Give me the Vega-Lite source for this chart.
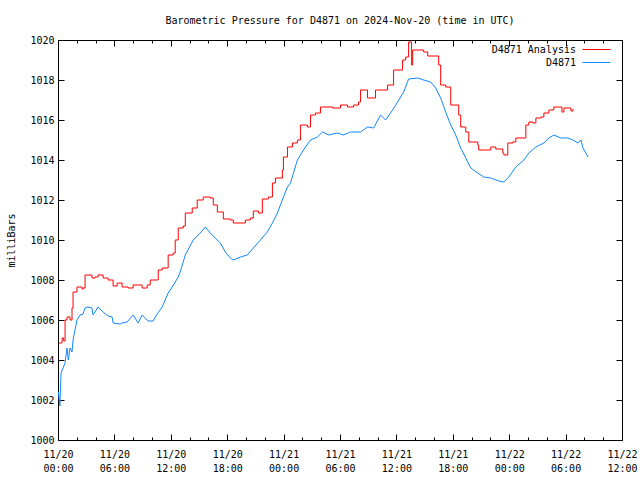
{
  "$schema": "https://vega.github.io/schema/vega-lite/v6.json",
  "autosize": {"type": "none"},
  "padding": {"left": 58, "top": 40, "right": 18, "bottom": 40},
  "width": 564,
  "height": 400,
  "background": "white",
  "title": {"text": "Barometric Pressure for D4871 on 2024-Nov-20 (time in UTC)", "font": "DejaVu Sans Mono", "fontSize": 10, "fontWeight": "normal", "color": "black", "offset": 9},
  "config": {
    "view": {"stroke": "black", "strokeWidth": 1},
    "font": "DejaVu Sans Mono",
    "axis": {"labelFont": "DejaVu Sans Mono", "labelFontSize": 10, "labelColor": "black", "titleFont": "DejaVu Sans Mono", "titleFontSize": 10, "titleFontWeight": "normal", "titleColor": "black", "tickColor": "black", "grid": false, "domain": false, "labelFlush": false},
    "legend": {"labelFont": "DejaVu Sans Mono", "labelFontSize": 10, "labelColor": "black"}
  },
  "data": {"values": [
    {"h": 0.11, "p": 1004.85, "s": "D4871 Analysis"},
    {"h": 0.43, "p": 1005.1, "s": "D4871 Analysis"},
    {"h": 0.6, "p": 1004.95, "s": "D4871 Analysis"},
    {"h": 0.75, "p": 1006.0, "s": "D4871 Analysis"},
    {"h": 0.96, "p": 1006.15, "s": "D4871 Analysis"},
    {"h": 1.28, "p": 1006.0, "s": "D4871 Analysis"},
    {"h": 1.49, "p": 1006.6, "s": "D4871 Analysis"},
    {"h": 1.6, "p": 1007.4, "s": "D4871 Analysis"},
    {"h": 2.02, "p": 1007.65, "s": "D4871 Analysis"},
    {"h": 2.56, "p": 1007.55, "s": "D4871 Analysis"},
    {"h": 2.66, "p": 1007.6, "s": "D4871 Analysis"},
    {"h": 2.88, "p": 1008.25, "s": "D4871 Analysis"},
    {"h": 3.62, "p": 1008.1, "s": "D4871 Analysis"},
    {"h": 3.94, "p": 1008.15, "s": "D4871 Analysis"},
    {"h": 4.26, "p": 1008.25, "s": "D4871 Analysis"},
    {"h": 4.8, "p": 1008.1, "s": "D4871 Analysis"},
    {"h": 5.33, "p": 1008.0, "s": "D4871 Analysis"},
    {"h": 5.86, "p": 1007.7, "s": "D4871 Analysis"},
    {"h": 6.29, "p": 1007.85, "s": "D4871 Analysis"},
    {"h": 6.82, "p": 1007.65, "s": "D4871 Analysis"},
    {"h": 7.46, "p": 1007.6, "s": "D4871 Analysis"},
    {"h": 7.99, "p": 1007.75, "s": "D4871 Analysis"},
    {"h": 8.95, "p": 1007.6, "s": "D4871 Analysis"},
    {"h": 9.49, "p": 1007.75, "s": "D4871 Analysis"},
    {"h": 9.81, "p": 1008.0, "s": "D4871 Analysis"},
    {"h": 10.66, "p": 1008.5, "s": "D4871 Analysis"},
    {"h": 11.08, "p": 1008.6, "s": "D4871 Analysis"},
    {"h": 11.72, "p": 1009.25, "s": "D4871 Analysis"},
    {"h": 12.26, "p": 1009.35, "s": "D4871 Analysis"},
    {"h": 12.47, "p": 1010.0, "s": "D4871 Analysis"},
    {"h": 12.79, "p": 1010.6, "s": "D4871 Analysis"},
    {"h": 13.32, "p": 1010.7, "s": "D4871 Analysis"},
    {"h": 13.54, "p": 1011.35, "s": "D4871 Analysis"},
    {"h": 14.28, "p": 1011.6, "s": "D4871 Analysis"},
    {"h": 14.81, "p": 1012.0, "s": "D4871 Analysis"},
    {"h": 15.45, "p": 1012.15, "s": "D4871 Analysis"},
    {"h": 16.2, "p": 1012.1, "s": "D4871 Analysis"},
    {"h": 16.52, "p": 1011.75, "s": "D4871 Analysis"},
    {"h": 16.95, "p": 1011.4, "s": "D4871 Analysis"},
    {"h": 17.59, "p": 1011.05, "s": "D4871 Analysis"},
    {"h": 18.33, "p": 1011.0, "s": "D4871 Analysis"},
    {"h": 18.65, "p": 1010.85, "s": "D4871 Analysis"},
    {"h": 19.93, "p": 1011.0, "s": "D4871 Analysis"},
    {"h": 20.46, "p": 1011.1, "s": "D4871 Analysis"},
    {"h": 20.78, "p": 1011.45, "s": "D4871 Analysis"},
    {"h": 21.32, "p": 1011.35, "s": "D4871 Analysis"},
    {"h": 21.74, "p": 1012.05, "s": "D4871 Analysis"},
    {"h": 22.38, "p": 1012.15, "s": "D4871 Analysis"},
    {"h": 22.81, "p": 1012.85, "s": "D4871 Analysis"},
    {"h": 23.13, "p": 1013.1, "s": "D4871 Analysis"},
    {"h": 23.87, "p": 1013.5, "s": "D4871 Analysis"},
    {"h": 23.98, "p": 1014.15, "s": "D4871 Analysis"},
    {"h": 24.41, "p": 1014.65, "s": "D4871 Analysis"},
    {"h": 24.94, "p": 1014.85, "s": "D4871 Analysis"},
    {"h": 25.47, "p": 1015.0, "s": "D4871 Analysis"},
    {"h": 25.79, "p": 1015.75, "s": "D4871 Analysis"},
    {"h": 26.54, "p": 1015.65, "s": "D4871 Analysis"},
    {"h": 26.86, "p": 1016.25, "s": "D4871 Analysis"},
    {"h": 27.39, "p": 1016.35, "s": "D4871 Analysis"},
    {"h": 27.92, "p": 1016.65, "s": "D4871 Analysis"},
    {"h": 29.2, "p": 1016.6, "s": "D4871 Analysis"},
    {"h": 30.05, "p": 1016.75, "s": "D4871 Analysis"},
    {"h": 30.8, "p": 1016.65, "s": "D4871 Analysis"},
    {"h": 31.44, "p": 1016.75, "s": "D4871 Analysis"},
    {"h": 31.97, "p": 1016.9, "s": "D4871 Analysis"},
    {"h": 32.19, "p": 1017.5, "s": "D4871 Analysis"},
    {"h": 32.93, "p": 1017.1, "s": "D4871 Analysis"},
    {"h": 33.78, "p": 1017.5, "s": "D4871 Analysis"},
    {"h": 35.06, "p": 1017.75, "s": "D4871 Analysis"},
    {"h": 35.7, "p": 1018.5, "s": "D4871 Analysis"},
    {"h": 36.66, "p": 1019.0, "s": "D4871 Analysis"},
    {"h": 36.98, "p": 1019.15, "s": "D4871 Analysis"},
    {"h": 37.3, "p": 1019.9, "s": "D4871 Analysis"},
    {"h": 37.62, "p": 1018.75, "s": "D4871 Analysis"},
    {"h": 37.73, "p": 1019.5, "s": "D4871 Analysis"},
    {"h": 38.9, "p": 1019.4, "s": "D4871 Analysis"},
    {"h": 39.33, "p": 1019.2, "s": "D4871 Analysis"},
    {"h": 40.5, "p": 1018.75, "s": "D4871 Analysis"},
    {"h": 40.71, "p": 1017.75, "s": "D4871 Analysis"},
    {"h": 41.24, "p": 1017.65, "s": "D4871 Analysis"},
    {"h": 41.78, "p": 1016.75, "s": "D4871 Analysis"},
    {"h": 42.63, "p": 1016.25, "s": "D4871 Analysis"},
    {"h": 42.84, "p": 1015.65, "s": "D4871 Analysis"},
    {"h": 43.38, "p": 1015.4, "s": "D4871 Analysis"},
    {"h": 43.7, "p": 1014.9, "s": "D4871 Analysis"},
    {"h": 44.66, "p": 1014.75, "s": "D4871 Analysis"},
    {"h": 44.76, "p": 1014.5, "s": "D4871 Analysis"},
    {"h": 46.04, "p": 1014.65, "s": "D4871 Analysis"},
    {"h": 46.57, "p": 1014.55, "s": "D4871 Analysis"},
    {"h": 47.32, "p": 1014.35, "s": "D4871 Analysis"},
    {"h": 47.43, "p": 1014.25, "s": "D4871 Analysis"},
    {"h": 47.85, "p": 1014.85, "s": "D4871 Analysis"},
    {"h": 48.38, "p": 1014.9, "s": "D4871 Analysis"},
    {"h": 48.71, "p": 1015.1, "s": "D4871 Analysis"},
    {"h": 49.77, "p": 1015.75, "s": "D4871 Analysis"},
    {"h": 50.09, "p": 1015.9, "s": "D4871 Analysis"},
    {"h": 50.52, "p": 1015.85, "s": "D4871 Analysis"},
    {"h": 50.84, "p": 1016.1, "s": "D4871 Analysis"},
    {"h": 51.37, "p": 1016.15, "s": "D4871 Analysis"},
    {"h": 51.69, "p": 1016.35, "s": "D4871 Analysis"},
    {"h": 52.22, "p": 1016.5, "s": "D4871 Analysis"},
    {"h": 52.75, "p": 1016.65, "s": "D4871 Analysis"},
    {"h": 53.61, "p": 1016.4, "s": "D4871 Analysis"},
    {"h": 53.82, "p": 1016.6, "s": "D4871 Analysis"},
    {"h": 54.57, "p": 1016.45, "s": "D4871 Analysis"},
    {"h": 54.78, "p": 1016.55, "s": "D4871 Analysis"},
    {"h": 0.05, "p": 1002.4, "s": "D4871"},
    {"h": 0.2, "p": 1001.7, "s": "D4871"},
    {"h": 0.32, "p": 1003.35, "s": "D4871"},
    {"h": 0.75, "p": 1003.85, "s": "D4871"},
    {"h": 0.96, "p": 1004.6, "s": "D4871"},
    {"h": 1.1, "p": 1004.0, "s": "D4871"},
    {"h": 1.28, "p": 1004.6, "s": "D4871"},
    {"h": 1.49, "p": 1004.4, "s": "D4871"},
    {"h": 1.6, "p": 1005.0, "s": "D4871"},
    {"h": 2.02, "p": 1006.0, "s": "D4871"},
    {"h": 2.34, "p": 1006.25, "s": "D4871"},
    {"h": 2.66, "p": 1006.3, "s": "D4871"},
    {"h": 2.88, "p": 1006.6, "s": "D4871"},
    {"h": 3.2, "p": 1006.65, "s": "D4871"},
    {"h": 3.62, "p": 1006.6, "s": "D4871"},
    {"h": 3.73, "p": 1006.25, "s": "D4871"},
    {"h": 4.26, "p": 1006.65, "s": "D4871"},
    {"h": 4.8, "p": 1006.4, "s": "D4871"},
    {"h": 5.33, "p": 1006.2, "s": "D4871"},
    {"h": 5.76, "p": 1006.15, "s": "D4871"},
    {"h": 5.86, "p": 1005.85, "s": "D4871"},
    {"h": 6.61, "p": 1005.8, "s": "D4871"},
    {"h": 6.82, "p": 1005.85, "s": "D4871"},
    {"h": 7.35, "p": 1005.9, "s": "D4871"},
    {"h": 7.99, "p": 1006.25, "s": "D4871"},
    {"h": 8.53, "p": 1005.85, "s": "D4871"},
    {"h": 8.95, "p": 1006.25, "s": "D4871"},
    {"h": 9.59, "p": 1005.95, "s": "D4871"},
    {"h": 10.12, "p": 1005.95, "s": "D4871"},
    {"h": 10.34, "p": 1006.15, "s": "D4871"},
    {"h": 11.08, "p": 1006.65, "s": "D4871"},
    {"h": 11.72, "p": 1007.35, "s": "D4871"},
    {"h": 12.15, "p": 1007.65, "s": "D4871"},
    {"h": 12.79, "p": 1008.15, "s": "D4871"},
    {"h": 13.0, "p": 1008.4, "s": "D4871"},
    {"h": 13.54, "p": 1009.25, "s": "D4871"},
    {"h": 14.39, "p": 1010.0, "s": "D4871"},
    {"h": 15.13, "p": 1010.35, "s": "D4871"},
    {"h": 15.67, "p": 1010.65, "s": "D4871"},
    {"h": 16.2, "p": 1010.35, "s": "D4871"},
    {"h": 16.73, "p": 1010.1, "s": "D4871"},
    {"h": 17.27, "p": 1009.85, "s": "D4871"},
    {"h": 17.8, "p": 1009.4, "s": "D4871"},
    {"h": 18.33, "p": 1009.1, "s": "D4871"},
    {"h": 18.65, "p": 1009.0, "s": "D4871"},
    {"h": 19.4, "p": 1009.15, "s": "D4871"},
    {"h": 20.14, "p": 1009.25, "s": "D4871"},
    {"h": 20.78, "p": 1009.6, "s": "D4871"},
    {"h": 21.53, "p": 1010.0, "s": "D4871"},
    {"h": 22.27, "p": 1010.4, "s": "D4871"},
    {"h": 22.81, "p": 1010.85, "s": "D4871"},
    {"h": 23.34, "p": 1011.35, "s": "D4871"},
    {"h": 23.98, "p": 1012.15, "s": "D4871"},
    {"h": 24.41, "p": 1012.65, "s": "D4871"},
    {"h": 24.73, "p": 1012.85, "s": "D4871"},
    {"h": 25.47, "p": 1014.0, "s": "D4871"},
    {"h": 26.11, "p": 1014.5, "s": "D4871"},
    {"h": 26.86, "p": 1015.0, "s": "D4871"},
    {"h": 27.6, "p": 1015.15, "s": "D4871"},
    {"h": 28.14, "p": 1015.4, "s": "D4871"},
    {"h": 28.78, "p": 1015.25, "s": "D4871"},
    {"h": 29.73, "p": 1015.35, "s": "D4871"},
    {"h": 30.37, "p": 1015.25, "s": "D4871"},
    {"h": 31.12, "p": 1015.4, "s": "D4871"},
    {"h": 32.19, "p": 1015.4, "s": "D4871"},
    {"h": 32.93, "p": 1015.65, "s": "D4871"},
    {"h": 33.57, "p": 1015.6, "s": "D4871"},
    {"h": 34.32, "p": 1016.25, "s": "D4871"},
    {"h": 34.85, "p": 1016.0, "s": "D4871"},
    {"h": 35.6, "p": 1016.5, "s": "D4871"},
    {"h": 36.13, "p": 1016.9, "s": "D4871"},
    {"h": 36.77, "p": 1017.4, "s": "D4871"},
    {"h": 37.3, "p": 1018.05, "s": "D4871"},
    {"h": 38.26, "p": 1018.1, "s": "D4871"},
    {"h": 38.9, "p": 1018.0, "s": "D4871"},
    {"h": 39.65, "p": 1017.9, "s": "D4871"},
    {"h": 40.18, "p": 1017.6, "s": "D4871"},
    {"h": 40.71, "p": 1017.1, "s": "D4871"},
    {"h": 41.24, "p": 1016.4, "s": "D4871"},
    {"h": 41.78, "p": 1015.75, "s": "D4871"},
    {"h": 42.31, "p": 1015.25, "s": "D4871"},
    {"h": 42.84, "p": 1014.6, "s": "D4871"},
    {"h": 43.38, "p": 1014.1, "s": "D4871"},
    {"h": 43.91, "p": 1013.6, "s": "D4871"},
    {"h": 44.66, "p": 1013.35, "s": "D4871"},
    {"h": 45.29, "p": 1013.15, "s": "D4871"},
    {"h": 46.04, "p": 1013.1, "s": "D4871"},
    {"h": 46.89, "p": 1012.95, "s": "D4871"},
    {"h": 47.43, "p": 1012.9, "s": "D4871"},
    {"h": 47.96, "p": 1013.15, "s": "D4871"},
    {"h": 48.71, "p": 1013.65, "s": "D4871"},
    {"h": 49.56, "p": 1014.0, "s": "D4871"},
    {"h": 50.09, "p": 1014.35, "s": "D4871"},
    {"h": 50.84, "p": 1014.65, "s": "D4871"},
    {"h": 51.69, "p": 1014.85, "s": "D4871"},
    {"h": 52.22, "p": 1015.1, "s": "D4871"},
    {"h": 52.75, "p": 1015.25, "s": "D4871"},
    {"h": 53.5, "p": 1015.1, "s": "D4871"},
    {"h": 54.25, "p": 1015.1, "s": "D4871"},
    {"h": 54.78, "p": 1015.0, "s": "D4871"},
    {"h": 55.31, "p": 1014.85, "s": "D4871"},
    {"h": 55.63, "p": 1015.0, "s": "D4871"},
    {"h": 55.85, "p": 1014.6, "s": "D4871"},
    {"h": 56.38, "p": 1014.15, "s": "D4871"}
  ]},
  "resolve": {"axis": {"x": "independent", "y": "independent"}},
  "layer": [
    {
      "transform": [{"filter": "datum.s === 'D4871 Analysis'"}],
      "mark": {"type": "line", "interpolate": "step-after", "strokeWidth": 1},
      "encoding": {
        "x": {"field": "h", "type": "quantitative", "scale": {"domain": [0, 60], "nice": false, "zero": false},
              "axis": {"orient": "top", "values": [0, 6, 12, 18, 24, 30, 36, 42, 48, 54, 60], "labels": false, "tickSize": -6, "title": null}},
        "y": {"field": "p", "type": "quantitative", "scale": {"domain": [1000, 1020], "nice": false, "zero": false},
              "axis": {"orient": "right", "values": [1000, 1002, 1004, 1006, 1008, 1010, 1012, 1014, 1016, 1018, 1020], "labels": false, "tickSize": -6, "title": null}},
        "color": {"field": "s", "type": "nominal", "scale": {"domain": ["D4871 Analysis", "D4871"], "range": ["#ff0000", "#1188ff"]},
                  "legend": {"title": null, "orient": "none", "legendX": 531, "legendY": 2, "padding": 0, "symbolType": "M-2,0H2", "symbolSize": 196, "symbolStrokeWidth": 1, "labelAlign": "right", "labelOffset": -28, "rowPadding": 0}}
      }
    },
    {
      "transform": [{"filter": "datum.s === 'D4871'"}],
      "mark": {"type": "line", "strokeWidth": 1},
      "encoding": {
        "x": {"field": "h", "type": "quantitative",
              "axis": {"orient": "bottom", "values": [0, 6, 12, 18, 24, 30, 36, 42, 48, 54, 60], "tickSize": -6, "labelPadding": 15, "labelLineHeight": 14, "labelBaseline": "top", "labelDx": -2, "title": null,
                       "labelExpr": "['11/' + (20 + floor(datum.value / 24)), (datum.value % 24 < 10 ? '0' : '') + (datum.value % 24) + ':00']"}},
        "y": {"field": "p", "type": "quantitative",
              "axis": {"orient": "left", "values": [1000, 1002, 1004, 1006, 1008, 1010, 1012, 1014, 1016, 1018, 1020], "format": "d", "tickSize": -6, "labelPadding": 10, "title": "milliBars", "titlePadding": 13}},
        "color": {"field": "s", "type": "nominal"}
      }
    },
    {
      "mark": {"type": "point", "opacity": 0},
      "encoding": {
        "x": {"field": "h", "type": "quantitative",
              "axis": {"orient": "bottom", "values": [2, 4, 8, 10, 14, 16, 20, 22, 26, 28, 32, 34, 38, 40, 44, 46, 50, 52, 56, 58], "labels": false, "tickSize": -3, "title": null}},
        "y": {"field": "p", "type": "quantitative", "axis": null}
      }
    },
    {
      "mark": {"type": "point", "opacity": 0},
      "encoding": {
        "x": {"field": "h", "type": "quantitative",
              "axis": {"orient": "top", "values": [2, 4, 8, 10, 14, 16, 20, 22, 26, 28, 32, 34, 38, 40, 44, 46, 50, 52, 56, 58], "labels": false, "tickSize": -3, "title": null}},
        "y": {"field": "p", "type": "quantitative", "axis": null}
      }
    }
  ]
}
